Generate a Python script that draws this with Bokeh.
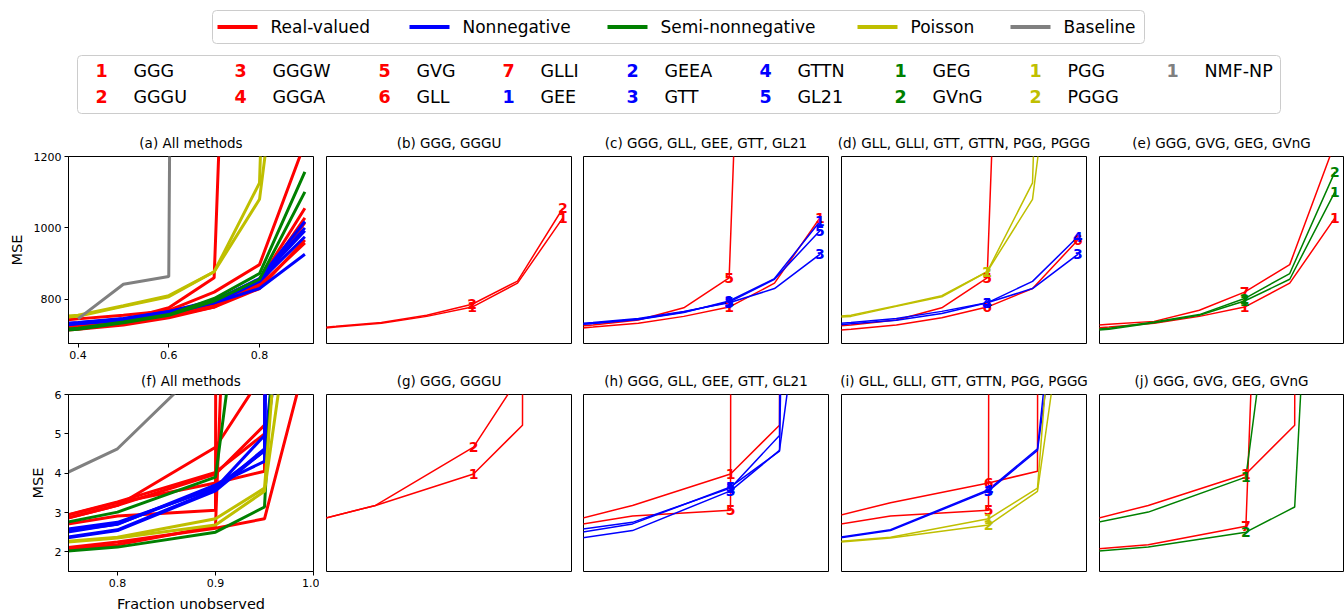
import numpy as np
from bokeh.plotting import figure
from bokeh.layouts import column, row
from bokeh.models import Range1d, FixedTicker, ColumnDataSource, PrintfTickFormatter
from bokeh.core.properties import value
from bokeh.embed import file_html
from bokeh.resources import INLINE

FONT = "DejaVu Sans"
nan = float("nan")

# ---- data -------------------------------------------------------------
# fraction of unobserved entries (upper row / lower row data sets)
frac_top = [0.3, 0.4, 0.5, 0.6, 0.7, 0.8, 0.9]
frac_bottom = [0.7, 0.8, 0.9, 0.95, 0.99]

method_names = ["GGG", "GGGU", "GGGW", "GGGA", "GVG", "GLL", "GLLI",
                "GEE", "GEEA", "GTT", "GTTN", "GL21",
                "GEG", "GVnG", "PGG", "PGGG", "NMF-NP"]
method_family = [0, 0, 0, 0, 0, 0, 0, 1, 1, 1, 1, 1, 2, 2, 3, 3, 4]
legend_numbers = ["1", "2", "3", "4", "5", "6", "7",
                  "1", "2", "3", "4", "5", "1", "2", "1", "2", "1"]
curve_tags = ["1", "2", "3", "4", "7", "5", "6",
              "1", "2", "3", "4", "5", "1", "2", "1", "2", "1"]

family_names = ["Real-valued", "Nonnegative", "Semi-nonnegative", "Poisson", "Baseline"]
family_colors = ["#ff0000", "#0000ff", "#008000", "#bfbf00", "#808080"]

# MSE, upper data set
top_GGG = [712, 722, 733, 752, 778, 845, 1028]
top_GGGU = [714, 724, 735, 755, 786, 851, 1055]
top_GGGW = [735, 745, 755, 768, 792, 840, 1015]
top_GGGA = [725, 733, 745, 760, 785, 838, 958]
top_GVG = [720, 730, 738, 769, 820, 897, 1238]
top_GLL = [718, 728, 742, 776, 860, 4300, 9000]
top_GLLI = [706, 716, 728, 748, 778, 830, 966]
top_GEE = [722, 732, 743, 763, 795, 858, 1018]
top_GEEA = [724, 734, 745, 765, 797, 855, 1000]
top_GTT = [725, 735, 746, 766, 790, 830, 926]
top_GTTN = [721, 731, 741, 760, 790, 850, 975]
top_GL21 = [723, 733, 744, 764, 792, 856, 992]
top_GEG = [706, 716, 734, 755, 795, 856, 1101]
top_GVnG = [709, 719, 736, 757, 802, 872, 1157]
top_PGG = [745, 755, 782, 810, 877, 1126, 5000]
top_PGGG = [743, 752, 780, 807, 877, 1080, 2080]
top_NMF_NP = [nan, 745, 842, 864, 20000, 40000, 60000]

# MSE, lower data set
bot_GGG = [2.55, 3.18, 3.98, 5.22, 900]
bot_GGGU = [2.55, 3.18, 4.66, 6.57, 900]
bot_GGGW = [2.62, 3.27, 4.02, 5.00, 800]
bot_GGGA = [1.97, 2.25, 2.60, 2.84, 6.67]
bot_GVG = [1.98, 2.18, 2.65, 36, 100]
bot_GLL = [2.51, 2.91, 3.06, 900, 1000]
bot_GLLI = [2.63, 3.25, 3.75, 4.05, 900]
bot_GEE = [2.42, 2.75, 3.62, 4.96, 200]
bot_GEEA = [2.38, 2.70, 3.70, 4.30, 150]
bot_GTT = [2.18, 2.54, 3.55, 4.58, 12]
bot_GTTN = [2.20, 2.56, 3.58, 4.62, 14]
bot_GL21 = [2.30, 2.71, 3.65, 4.56, 60]
bot_GEG = [2.51, 3.01, 3.90, 13.4, 100]
bot_GVnG = [1.92, 2.12, 2.50, 3.14, 22]
bot_PGG = [2.17, 2.37, 2.84, 3.62, 16.3]
bot_PGGG = [2.15, 2.35, 2.68, 3.54, 10.6]
bot_NMF_NP = [3.44, 4.62, 7.04, 10, 20]

top_series = [top_GGG, top_GGGU, top_GGGW, top_GGGA, top_GVG, top_GLL, top_GLLI,
              top_GEE, top_GEEA, top_GTT, top_GTTN, top_GL21,
              top_GEG, top_GVnG, top_PGG, top_PGGG, top_NMF_NP]
bot_series = [bot_GGG, bot_GGGU, bot_GGGW, bot_GGGA, bot_GVG, bot_GLL, bot_GLLI,
              bot_GEE, bot_GEEA, bot_GTT, bot_GTTN, bot_GL21,
              bot_GEG, bot_GVnG, bot_PGG, bot_PGGG, bot_NMF_NP]

subset_b = ["GGG", "GGGU"]
subset_c = ["GGG", "GLL", "GEE", "GTT", "GL21"]
subset_d = ["GLL", "GLLI", "GTT", "GTTN", "PGG", "PGGG"]
subset_e = ["GGG", "GVG", "GEG", "GVnG"]

# positions where the method numbers are written on the curves
tag_fracs = [0.7, 0.9]

# ---- helpers ----------------------------------------------------------
def color_of(name):
    return family_colors[method_family[method_names.index(name)]]


def make_panel(title, names, xs, table, xr, yr, fw, fh, borders, thick,
               show_tags, xaxis=None, yaxis=None):
    bl, br, bt, bb = borders
    p = figure(frame_width=fw, frame_height=fh,
               x_range=Range1d(*xr), y_range=Range1d(*yr),
               output_backend="svg", toolbar_location=None,
               min_border_left=bl, min_border_right=br,
               min_border_top=bt, min_border_bottom=bb)
    p.title.text = title
    p.title.align = "center"
    p.title.text_font = FONT
    p.title.text_font_size = "13.5px"
    p.title.text_font_style = "normal"
    p.title.text_color = "black"
    p.title.standoff = 11
    p.grid.visible = False
    p.outline_line_color = "black"
    p.outline_line_width = 1
    p.outline_line_alpha = 1.0
    p.background_fill_color = "white"
    p.border_fill_color = "white"

    lw = 3 if thick else 1.5
    tx, ty, tt, tc = [], [], [], []
    for name in names:
        i = method_names.index(name)
        ys = np.array(table[i], dtype=float)
        p.line(xs, ys, line_color=color_of(name), line_width=lw)
        if show_tags:
            for f in tag_fracs:
                if f in xs and xr[0] <= f <= xr[1]:
                    yv = ys[xs.index(f)]
                    if yr[0] <= yv <= yr[1]:
                        tx.append(f)
                        ty.append(yv)
                        tt.append(curve_tags[i])
                        tc.append(color_of(name))
    if tx:
        src = ColumnDataSource(dict(x=tx, y=ty, t=tt, c=tc))
        p.text(x="x", y="y", text="t", text_color="c", source=src,
               text_font=value(FONT), text_font_style="bold",
               text_font_size="14px", text_align="center",
               text_baseline="middle")

    for ax, spec, fmt in ((p.xaxis, xaxis, "%.1f"), (p.yaxis, yaxis, "%d")):
        if spec is None:
            ax.visible = False
            continue
        ticks, label = spec
        ax.ticker = FixedTicker(ticks=ticks)
        ax.formatter = PrintfTickFormatter(format=fmt)
        ax.axis_label = label
        ax.axis_line_color = "black"
        ax.major_tick_line_color = "black"
        ax.major_tick_out = 4
        ax.major_tick_in = 0
        ax.minor_tick_out = 0
        ax.minor_tick_in = 0
        ax.major_label_text_font = FONT
        ax.major_label_text_font_size = "11px"
        ax.major_label_text_color = "black"
        ax.major_label_standoff = 3
        ax.axis_label_text_font = FONT
        ax.axis_label_text_font_size = "14.5px"
        ax.axis_label_text_font_style = "normal"
        ax.axis_label_text_color = "black"
        ax.axis_label_standoff = 6
    return p


# ---- legend strip -----------------------------------------------------
leg = figure(width=1344, height=120, x_range=Range1d(0, 1344), y_range=Range1d(120, 0),
             output_backend="svg", toolbar_location=None, min_border=0)
leg.axis.visible = False
leg.grid.visible = False
leg.outline_line_color = None

leg.quad(left=[212, 77], right=[1144, 1280], top=[10, 55], bottom=[43, 113],
         fill_color="white", line_color="#cccccc", line_width=1, border_radius=4)

fam_line_x = [217, 409, 607, 857, 1010]
leg.segment(x0=fam_line_x, x1=[v + 40 for v in fam_line_x], y0=[26.5] * 5, y1=[26.5] * 5,
            line_color=family_colors, line_width=4)
leg.text(x=[v + 53 for v in fam_line_x], y=[26.5] * 5, text=family_names,
         text_font=value(FONT), text_font_size="17px", text_color="black",
         text_align="left", text_baseline="middle")

col_x = [101, 240, 384, 508, 632, 765, 900, 1035, 1172]
dx, dy, dt, dc, nx, nt = [], [], [], [], [], []
for k, name in enumerate(method_names):
    cx = col_x[k // 2]
    cy = 70 if k % 2 == 0 else 96
    dx.append(cx)
    dy.append(cy)
    dt.append(legend_numbers[k])
    dc.append(family_colors[method_family[k]])
    nx.append(cx + 32)
    nt.append(name)
leg.text(x=dx, y=dy, text=dt, text_color=dc, text_font=value(FONT),
         text_font_style="bold", text_font_size="17.5px",
         text_align="center", text_baseline="middle")
leg.text(x=nx, y=dy, text=nt, text_color="black", text_font=value(FONT),
         text_font_size="17.5px", text_align="left", text_baseline="middle")

# ---- panels -----------------------------------------------------------
xr_top, yr_top = (0.379, 0.919), (676, 1200)
xr_bot, yr_bot = (0.75, 1.0), (1.5, 6.0)

col_borders = [(68, 6), (7, 6), (6, 6), (7, 6), (7, 1)]
col_widths = [245, 245, 245, 245, 244]

top_titles = ["(a) All methods", "(b) GGG, GGGU", "(c) GGG, GLL, GEE, GTT, GL21",
              "(d) GLL, GLLI, GTT, GTTN, PGG, PGGG", "(e) GGG, GVG, GEG, GVnG"]
bot_titles = ["(f) All methods", "(g) GGG, GGGU", "(h) GGG, GLL, GEE, GTT, GL21",
              "(i) GLL, GLLI, GTT, GTTN, PGG, PGGG", "(j) GGG, GVG, GEG, GVnG"]
subsets = [method_names, subset_b, subset_c, subset_d, subset_e]

top_figs, bot_figs = [], []
for j in range(5):
    bl, br = col_borders[j]
    first = j == 0
    top_figs.append(make_panel(
        top_titles[j], subsets[j], frac_top, top_series, xr_top, yr_top,
        col_widths[j], 187, (bl, br, 36, 22), first, not first,
        xaxis=([0.4, 0.6, 0.8], "") if first else None,
        yaxis=([800, 1000, 1200], "MSE") if first else None))
    bot_figs.append(make_panel(
        bot_titles[j], subsets[j], frac_bottom, bot_series, xr_bot, yr_bot,
        col_widths[j], 177, (bl, br, 28, 42), first, not first,
        xaxis=([0.8, 0.9, 1.0], "Fraction unobserved") if first else None,
        yaxis=([2, 3, 4, 5, 6], "MSE") if first else None))

layout = column(leg, row(*top_figs), row(*bot_figs))
open("out.html", "w").write(file_html(layout, INLINE))
